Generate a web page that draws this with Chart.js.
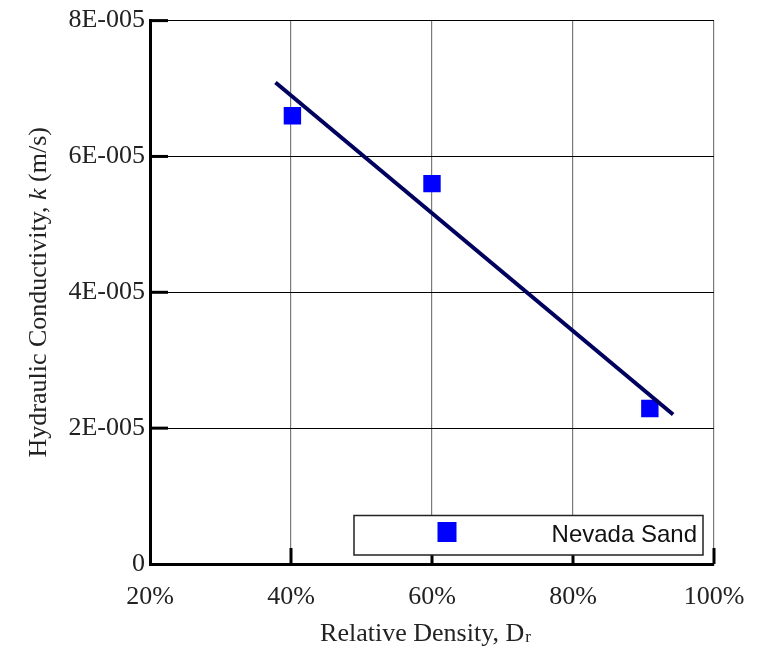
<!DOCTYPE html>
<html>
<head>
<meta charset="utf-8">
<script src="https://cdn.jsdelivr.net/npm/chart.js@4"></script>
<style>
  html, body { margin: 0; padding: 0; background: #fff; }
  #wrap { width: 763px; height: 648px; }
</style>
</head>
<body>
<div id="wrap"><canvas id="c" width="763" height="648"></canvas></div>
<script>
// ---- data ----
const seriesName = 'Nevada Sand';
const densityPct = [40.2, 60, 90.9];          // Relative density Dr (%)
const kValues = [6.6e-5, 5.6e-5, 2.29e-5];     // hydraulic conductivity (m/s)
const fitX = [37.8, 94.2];                     // fitted trend line endpoints (%)
const fitK = [7.09e-5, 2.2e-5];
const xTickValues = [20, 40, 60, 80, 100];
const xTickLabels = ['20%', '40%', '60%', '80%', '100%'];
const yTickValues = [0, 2e-5, 4e-5, 6e-5, 8e-5];
const yTickLabels = ['0', '2E-005', '4E-005', '6E-005', '8E-005'];
const yTitleParts = [['Hydraulic Conductivity, ', false], ['k', true], [' (m/s)', false]];
const xTitleMain = 'Relative Density, D';
const xTitleSub = 'r';

const SERIF = "'Liberation Serif', 'Times New Roman', serif";
const SANS = "'Liberation Sans', Arial, sans-serif";

const decorPlugin = {
  id: 'decor',
  afterDraw(chart) {
    const ctx = chart.ctx;
    const xs = chart.scales.x, ys = chart.scales.y;
    const ca = chart.chartArea;
    ctx.save();
    // inner major ticks
    ctx.strokeStyle = '#000';
    ctx.lineWidth = 3;
    ctx.lineCap = 'butt';
    yTickValues.forEach(v => {
      if (v === 0) return;
      const y = ys.getPixelForValue(v);
      ctx.beginPath(); ctx.moveTo(ca.left, y); ctx.lineTo(ca.left + 18, y); ctx.stroke();
    });
    xTickValues.forEach(v => {
      if (v === xTickValues[0]) return;
      const x = xs.getPixelForValue(v);
      ctx.beginPath(); ctx.moveTo(x, ca.bottom); ctx.lineTo(x, ca.bottom - 16); ctx.stroke();
    });

    // legend box
    const lx0 = 354, lx1 = 703, ly0 = 515.5, ly1 = 555;
    ctx.fillStyle = '#fff';
    ctx.fillRect(lx0, ly0, lx1 - lx0, ly1 - ly0);
    ctx.lineWidth = 1.5;
    ctx.strokeStyle = '#222';
    ctx.strokeRect(lx0, ly0, lx1 - lx0, ly1 - ly0);
    const ds = chart.data.datasets[1];
    ctx.fillStyle = ds.backgroundColor;
    ctx.fillRect(437.5, 522, 19, 20);
    ctx.fillStyle = '#111';
    ctx.font = '24px ' + SANS;
    ctx.textAlign = 'right';
    ctx.textBaseline = 'alphabetic';
    ctx.fillText(ds.label, 697, 541.5);

    // y axis title (rotated, with italic k)
    ctx.fillStyle = '#222';
    const fontN = '26px ' + SERIF, fontI = 'italic 26px ' + SERIF;
    let total = 0;
    yTitleParts.forEach(([t, it]) => { ctx.font = it ? fontI : fontN; total += ctx.measureText(t).width; });
    ctx.save();
    ctx.translate(46, (ca.top + ca.bottom) / 2);
    ctx.rotate(-Math.PI / 2);
    ctx.textAlign = 'left';
    ctx.textBaseline = 'alphabetic';
    let pos = -total / 2;
    yTitleParts.forEach(([t, it]) => {
      ctx.font = it ? fontI : fontN;
      ctx.fillText(t, pos, 0);
      pos += ctx.measureText(t).width;
    });
    ctx.restore();

    // x axis title with subscript
    ctx.font = fontN;
    const wMain = ctx.measureText(xTitleMain).width;
    ctx.font = '17px ' + SERIF;
    const wSub = ctx.measureText(xTitleSub).width;
    const startX = 425 - (wMain + wSub) / 2;
    ctx.textAlign = 'left';
    ctx.font = fontN;
    ctx.fillText(xTitleMain, startX, 641);
    ctx.font = '17px ' + SERIF;
    ctx.fillText(xTitleSub, startX + wMain + 1, 642);
    ctx.restore();
  }
};

new Chart(document.getElementById('c'), {
  type: 'scatter',
  data: {
    datasets: [
      {
        type: 'line',
        label: 'fit',
        data: fitX.map((x, i) => ({ x, y: fitK[i] })),
        borderColor: '#00005e',
        borderWidth: 4,
        pointRadius: 0,
        fill: false,
        order: 0
      },
      {
        label: seriesName,
        data: densityPct.map((x, i) => ({ x, y: kValues[i] })),
        backgroundColor: '#0000ff',
        borderColor: '#0000ff',
        borderWidth: 0,
        pointStyle: 'rect',
        pointRadius: 12.3,
        order: 1
      }
    ]
  },
  options: {
    responsive: false,
    animation: false,
    devicePixelRatio: 1,
    layout: { padding: { left: 0, right: 49, top: 17, bottom: 0 } },
    plugins: { legend: { display: false }, tooltip: { enabled: false } },
    scales: {
      x: {
        type: 'linear',
        min: 20, max: 100,
        afterBuildTicks: s => { s.ticks = xTickValues.map(v => ({ value: v })); },
        afterFit: s => { s.height = 84; },
        ticks: {
          callback: (v) => xTickLabels[xTickValues.indexOf(v)],
          font: { family: SERIF, size: 26 },
          color: '#222',
          padding: 18,
          maxRotation: 0,
          autoSkip: false
        },
        grid: { color: '#7a7a7a', lineWidth: 1.2, drawTicks: false },
        border: { display: true, color: '#000', width: 3 }
      },
      y: {
        type: 'linear',
        min: 0, max: 8e-5,
        afterBuildTicks: s => { s.ticks = yTickValues.map(v => ({ value: v })); },
        afterFit: s => { s.width = 150; },
        ticks: {
          callback: (v) => yTickLabels[yTickValues.indexOf(v)],
          font: { family: SERIF, size: 26 },
          color: '#222',
          padding: 5,
          autoSkip: false
        },
        grid: { color: '#000', lineWidth: 1, drawTicks: false },
        border: { display: true, color: '#000', width: 3 }
      }
    }
  },
  plugins: [decorPlugin]
});
</script>
</body>
</html>
